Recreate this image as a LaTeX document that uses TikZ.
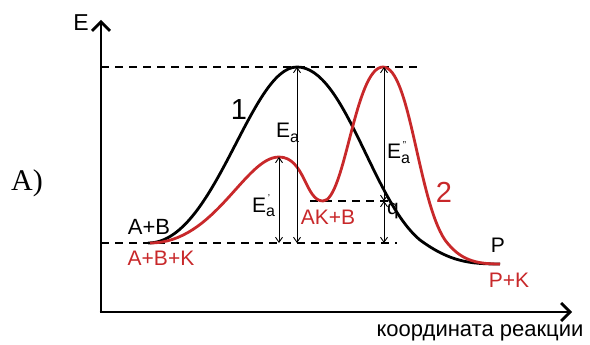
\documentclass[tikz,border=0pt]{standalone}
\usepackage{fontspec}
\setmainfont{Liberation Sans}
\newfontfamily\timesfont{Liberation Serif}
\usetikzlibrary{arrows.meta}
\definecolor{cred}{HTML}{C8282A}
\newcommand\Elab[1]{E\rlap{\raisebox{-4.5pt}{\fontsize{16}{16}\selectfont a}}\raisebox{10.5pt}{\fontsize{10}{10}\selectfont\,#1}}
\begin{document}
\begin{tikzpicture}[x=1pt,y=-1pt,
  axis/.style={line width=2.8pt,-{Straight Barb[length=9pt,width=18pt,line width=2.8pt]}},
  curve/.style={line width=2.8pt},
  dashline/.style={line width=1.3pt,dash pattern=on 8pt off 6pt},
  meas/.style={line width=0.9pt,{Straight Barb[length=5pt,width=7pt]}-{Straight Barb[length=5pt,width=7pt]}},
  lbl/.style={font=\fontsize{21}{21}\selectfont,inner sep=0pt},
  elbl/.style={font=\fontsize{21}{21}\selectfont,inner sep=0pt,anchor=base west},
  num/.style={font=\fontsize{29}{29}\selectfont,inner sep=0pt}]
\useasboundingbox (0,0) rectangle (590,345);
% key coordinates
\coordinate (O) at (101,312);
\coordinate (Etop) at (101,20);
\coordinate (Xend) at (572,312);
\coordinate (s1) at (148,243);
\coordinate (pk1) at (297,67);
\coordinate (e1) at (500,264);
\coordinate (s2) at (150,243);
\coordinate (pk2a) at (279,157);
\coordinate (mn) at (323,201);
\coordinate (pk2b) at (383,67);
% dashed levels
\coordinate (dt0) at (101,67); \coordinate (dt1) at (418,67);
\coordinate (db0) at (101,243); \coordinate (db1) at (397,243);
\coordinate (dm0) at (310,201); \coordinate (dm1) at (392,201);
\draw[dashline] (dt0) -- (dt1);
\draw[dashline] (db0) -- (db1);
\draw[dashline] (dm0) -- (dm1);
% axes
\draw[axis] (O) -- (Etop);
\draw[axis] ([xshift=-1.4pt]O) -- (Xend);
% curves
\draw[curve,black] (s1) .. controls (215,243) and (250,67) .. (pk1)
  .. controls (345,67) and (372,200) .. (420,240)
  .. controls (450,262) and (470,264) .. (e1);
\draw[curve,cred] (s2) .. controls (215,243) and (245,157) .. (pk2a)
  .. controls (305,157) and (305,201) .. (mn)
  .. controls (345,201) and (355,67) .. (pk2b)
  .. controls (410,67) and (418,200) .. (445,240)
  .. controls (460,260) and (475,264) .. (e1);
% measure arrows
\coordinate (a1t) at (297,67); \coordinate (a1b) at (297,243);
\coordinate (a2t) at (279,157); \coordinate (a2b) at (279,243);
\coordinate (a3t) at (384,67); \coordinate (a3b) at (384,201);
\coordinate (a4t) at (384,201); \coordinate (a4b) at (384,243);
\draw[meas] (a1t) -- (a1b);
\draw[meas] (a2t) -- (a2b);
\draw[meas] (a3t) -- (a3b);
\draw[meas] (a4t) -- (a4b);
% labels
\node[inner sep=0pt,font=\fontsize{23}{23}\selectfont] (E) at (81,23) {E};
\node[lbl,font=\fontsize{22}{22}\selectfont] (xl) at (480,333) {координата реакции};
\node[num] (n1) at (239,110) {1};
\node[num,text=cred] (n2) at (444,192) {2};
\node[elbl] (Ea) at (276,138) {E\raisebox{-4.5pt}{\fontsize{16}{16}\selectfont a}};
\node[elbl] (Ea1) at (252,212) {\Elab{'}};
\node[elbl] (Ea2) at (387,159) {\Elab{''}};
\node[lbl] (q) at (393,211) {q};
\node[lbl,text=cred] (akb) at (328,217) {AK+B};
\node[lbl,font=\fontsize{22}{22}\selectfont] (ab) at (149,227) {A+B};
\node[lbl,text=cred] (abk) at (161,258) {A+B+K};
\node[lbl] (P) at (498,245) {P};
\node[lbl,text=cred] (PK) at (509,280) {P+K};
\node[inner sep=0pt,font=\timesfont\fontsize{30}{30}\selectfont] (A) at (27,183) {A)};
\end{tikzpicture}
\end{document}
